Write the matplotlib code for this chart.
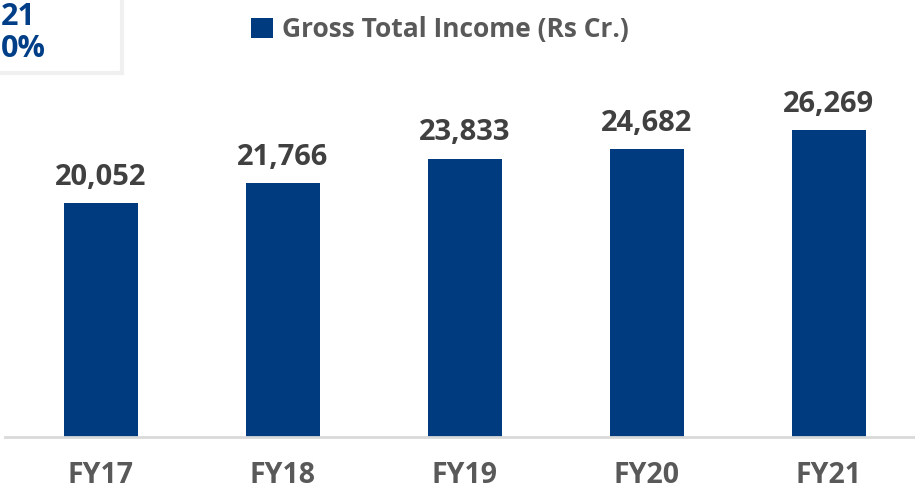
# gross total income bar chart FY17-FY21

import matplotlib
matplotlib.use('Agg')
import matplotlib.pyplot as plt
from matplotlib.patches import Rectangle

years = ['FY17', 'FY18', 'FY19', 'FY20', 'FY21']
income = [20052, 21766, 23833, 24682, 26269]
box_lines = ['21', '0%']   # what is left visible of the cagr box

bar_col = '#003b80'
txt_col = '#404040'

fig = plt.figure(figsize=(9.15, 4.9), dpi=100)
ax = fig.add_axes([5/915, 53/490, 910/915, 437/490])

bars = ax.bar(range(len(years)), income, width=0.407, color=bar_col,
              label='Gross Total Income (Rs Cr.)')
ax.set_xlim(-0.527, 4.473)
ax.set_ylim(0, 37400)

for i, v in enumerate(income):
    ax.annotate(f'{v:,}', (i, v), xytext=(0, 13), textcoords='offset points',
                ha='center', va='baseline', fontsize=21, fontweight='bold',
                color=txt_col, family=['Open Sans', 'DejaVu Sans'])

ax.set_xticks(range(len(years)))
ax.set_xticklabels(years, fontsize=20.5, fontweight='bold', color='#595959',
                   family=['Liberation Sans Narrow', 'Open Sans', 'DejaVu Sans'])
ax.tick_params(axis='x', length=0, pad=17)
ax.set_yticks([])
for s in ['top', 'left', 'right']:
    ax.spines[s].set_visible(False)
ax.spines['bottom'].set_color('#d9d9d9')
ax.spines['bottom'].set_linewidth(2)

leg = ax.legend(loc='upper center', bbox_to_anchor=(0.478, 1.0), frameon=False,
                handlelength=0.8, handleheight=0.8, handletextpad=0.35,
                borderaxespad=0.2,
                prop={'family': ['Open Sans', 'DejaVu Sans'], 'weight': 'bold', 'size': 19})
for t in leg.get_texts():
    t.set_color('#595959')

# cagr box cut off at the top left
fig.patches.append(Rectangle((-0.05, 417/490), 0.05 + 122/915, 0.2,
                             transform=fig.transFigure, facecolor='white',
                             edgecolor='#f0f0f0', linewidth=3))
fig.text(1/915, 1 - 25/490, box_lines[0], ha='left', va='baseline',
         fontsize=22, fontweight='bold', color='#003f87',
         family=['Open Sans', 'DejaVu Sans'])
fig.text(1/915, 1 - 57/490, box_lines[1], ha='left', va='baseline',
         fontsize=22, fontweight='bold', color='#003f87',
         family=['Open Sans', 'DejaVu Sans'])

fig.savefig('out.png', dpi=100)
